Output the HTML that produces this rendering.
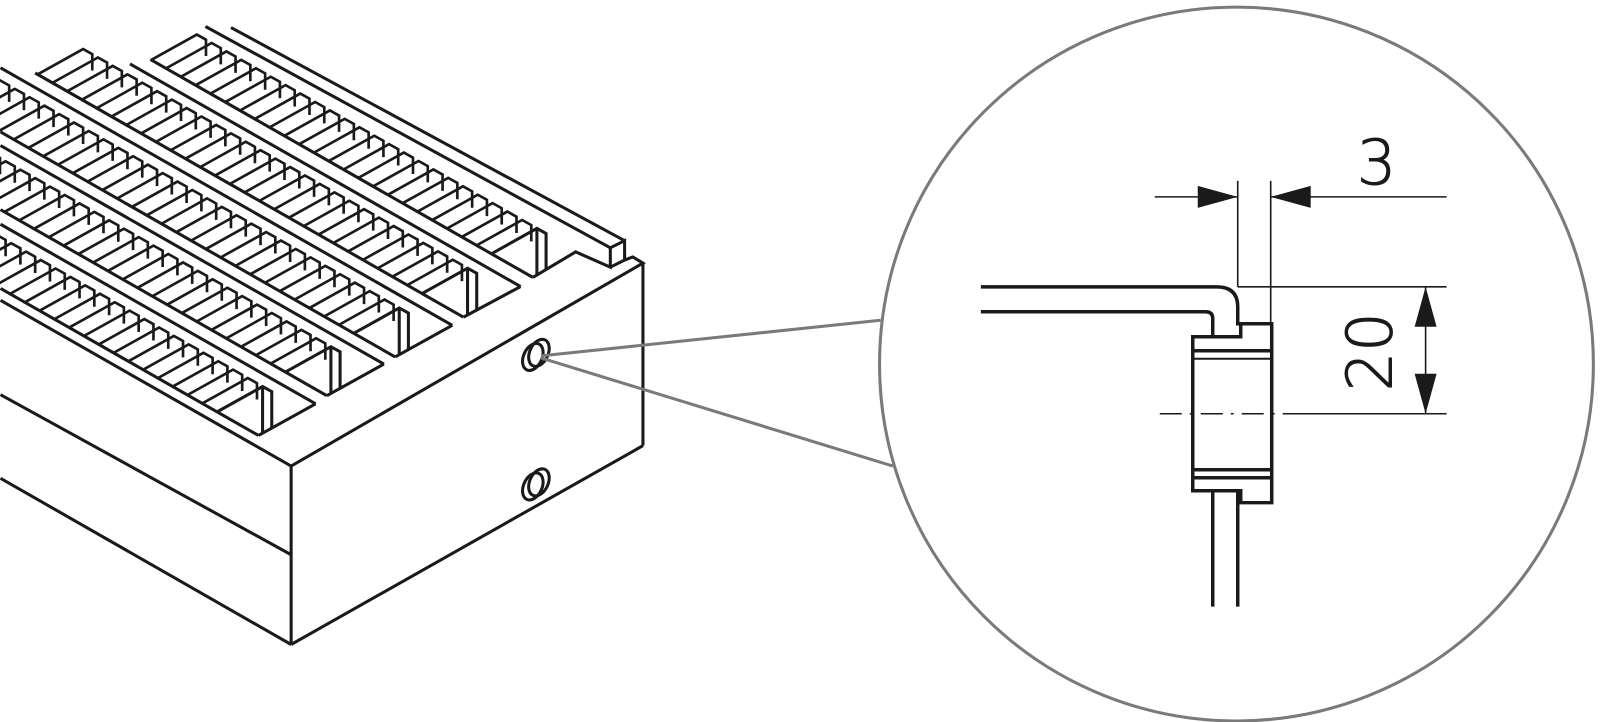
<!DOCTYPE html>
<html><head><meta charset="utf-8"><style>
html,body{margin:0;padding:0;background:#fff;}
svg{display:block;}
</style></head><body>
<svg width="1600" height="722" viewBox="0 0 1568 708" xmlns="http://www.w3.org/2000/svg">
<defs>
  <path id="f" d="M-44,24.5 L0,0 L9,5 L9,21" fill="none" stroke="#1a1a1a" stroke-width="2.6"/>
  <g id="f5">
    <use href="#f" x="-14.5" y="-8.265"/>
    <use href="#f" x="-29" y="-16.53"/>
    <use href="#f" x="-43.5" y="-24.795"/>
    <use href="#f" x="-58" y="-33.06"/>
    <use href="#f" x="-72.5" y="-41.325"/>
  </g>
  <g id="f10">
    <use href="#f5"/>
    <use href="#f5" x="-72.5" y="-41.325"/>
  </g>
</defs>
<!-- fins -->
<g transform="translate(526,224)">
  <use href="#f10"/><use href="#f10" x="-145" y="-82.65"/>
  <use href="#f" x="-304.5" y="-173.57"/><use href="#f" x="-319" y="-181.83"/><use href="#f" x="-333.5" y="-190.1"/>
</g>
<g transform="translate(458,263)">
  <use href="#f10"/><use href="#f10" x="-145" y="-82.65"/><use href="#f5" x="-290" y="-165.3"/>
  <use href="#f" x="-377" y="-214.89"/>
</g>
<g transform="translate(391,302)">
  <use href="#f10"/><use href="#f10" x="-145" y="-82.65"/><use href="#f5" x="-290" y="-165.3"/>
  <use href="#f" x="-377" y="-214.89"/><use href="#f" x="-391.5" y="-223.16"/>
</g>
<g transform="translate(324,340)">
  <use href="#f10"/><use href="#f10" x="-145" y="-82.65"/>
  <use href="#f" x="-304.5" y="-173.57"/><use href="#f" x="-319" y="-181.83"/><use href="#f" x="-333.5" y="-190.1"/>
</g>
<g transform="translate(257,379)">
  <use href="#f10"/><use href="#f5" x="-145" y="-82.65"/>
  <use href="#f" x="-232" y="-132.24"/><use href="#f" x="-246.5" y="-140.51"/><use href="#f" x="-261" y="-148.77"/>
</g>
<g fill="none" stroke="#1a1a1a" stroke-width="3" stroke-linejoin="miter">
  <!-- row A -->
  <line x1="522" y1="272" x2="147" y2="58.3"/>
  <polyline points="482,248.5 526,224 535,229 535,265"/>
  <line x1="526" y1="224" x2="526" y2="270"/>
  <!-- row B -->
  <line x1="454" y1="311" x2="34" y2="71.6"/>
  <line x1="454" y1="311" x2="510" y2="281"/>
  <line x1="510" y1="281" x2="127" y2="62.7"/>
  <polyline points="414,287.5 458,263 467,268 467,304"/>
  <line x1="458" y1="263" x2="458" y2="309"/>
  <!-- row C -->
  <line x1="387" y1="350" x2="0" y2="129.4"/>
  <line x1="387" y1="350" x2="443" y2="319"/>
  <line x1="443" y1="319" x2="0" y2="66.5"/>
  <polyline points="347,326.5 391,302 400,307 400,343"/>
  <line x1="391" y1="302" x2="391" y2="348"/>
  <!-- row D -->
  <line x1="320" y1="388" x2="0" y2="205.6"/>
  <line x1="320" y1="388" x2="376" y2="357"/>
  <line x1="376" y1="357" x2="0" y2="142.7"/>
  <polyline points="280,364.5 324,340 333,345 333,381"/>
  <line x1="324" y1="340" x2="324" y2="386"/>
  <!-- row E -->
  <line x1="253" y1="427" x2="0" y2="282.8"/>
  <line x1="253" y1="427" x2="309" y2="396"/>
  <line x1="309" y1="396" x2="0" y2="219.9"/>
  <polyline points="213,403.5 257,379 266,384 266,420"/>
  <line x1="257" y1="379" x2="257" y2="425"/>
  <!-- rails -->
  <line x1="201" y1="26" x2="598" y2="243"/>
  <line x1="226" y1="27" x2="612" y2="236"/>
  <!-- step & rail block & top edge -->
  <polyline points="522,272 564,247 598,262 598,243 612,236 612,255 598,262"/>
  <polyline points="612,255 620,252 630,258 285,457"/>
  <!-- box -->
  <line x1="630" y1="258" x2="630" y2="437"/>
  <line x1="285" y1="457" x2="285" y2="632"/>
  <line x1="285" y1="632" x2="630" y2="437"/>
  <line x1="0" y1="387" x2="285" y2="544"/>
  <line x1="0" y1="469" x2="285" y2="632"/>
  <line x1="0" y1="294.5" x2="285" y2="457"/>
  <!-- holes -->
  <ellipse cx="522" cy="350" rx="9" ry="14" transform="rotate(25 522 350)"/>
  <ellipse cx="528" cy="346" rx="9" ry="14" transform="rotate(25 528 346)"/>
  <ellipse cx="522" cy="477" rx="9" ry="14" transform="rotate(25 522 477)"/>
  <ellipse cx="528" cy="473" rx="9" ry="14" transform="rotate(25 528 473)"/>
</g>
<!-- leaders and circle -->
<g fill="none" stroke="#7a7a7a" stroke-width="3">
  <line x1="530" y1="349" x2="863" y2="314"/>
  <line x1="530" y1="351" x2="875" y2="457"/>
  <circle cx="1212" cy="357" r="350"/>
</g>
<!-- detail (true coords) -->
<g transform="scale(0.98)" fill="none" stroke="#1a1a1a">
  <g stroke-width="3.5">
    <path d="M981 287 H1217 Q1238 287 1238 307 V324 H1272 V503 H1241 V491 H1193 V337 H1241 V324"/>
    <path d="M981 312 H1206 Q1213 312 1213 319 V337"/>
    <line x1="1213" y1="491" x2="1213" y2="607"/>
    <line x1="1238" y1="491" x2="1238" y2="607"/>
    <line x1="1193" y1="351" x2="1272" y2="351"/>
    <line x1="1193" y1="359" x2="1272" y2="359" stroke-width="2"/>
    <line x1="1193" y1="470" x2="1272" y2="470"/>
    <line x1="1193" y1="478" x2="1272" y2="478"/>
  </g>
  <g stroke-width="1.6">
    <line x1="1238" y1="181" x2="1238" y2="287"/>
    <line x1="1271" y1="181" x2="1271" y2="324"/>
    <line x1="1155" y1="197" x2="1238" y2="197"/>
    <line x1="1271" y1="197" x2="1447" y2="197"/>
    <line x1="1238" y1="287" x2="1447" y2="287"/>
    <line x1="1160" y1="414" x2="1283" y2="414" stroke-dasharray="22 8 3 8"/>
    <line x1="1283" y1="414" x2="1447" y2="414"/>
    <line x1="1426" y1="287" x2="1426" y2="414"/>
  </g>
  <g fill="#1a1a1a" stroke="none">
    <polygon points="1238,197 1198,186 1198,208"/>
    <polygon points="1271,197 1311,186 1311,208"/>
    <polygon points="1426,287 1415,327 1437,327"/>
    <polygon points="1426,414 1415,374 1437,374"/>
  </g>
  <g fill="#1a1a1a" font-family="'DejaVu Sans','Liberation Sans',sans-serif" font-size="62" font-weight="300">
    <text x="1377" y="184" text-anchor="middle">3</text>
    <text transform="translate(1392,352) rotate(-90)" text-anchor="middle">20</text>
  </g>
</g>
</svg>
</body></html>
